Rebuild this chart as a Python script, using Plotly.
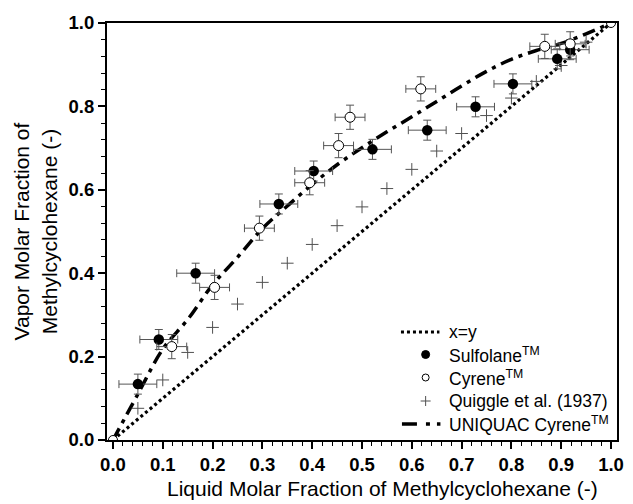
import plotly.graph_objects as go

# ---------------- data ----------------
sulf_x = [0.050, 0.092, 0.166, 0.333, 0.403, 0.521, 0.631, 0.728, 0.803, 0.892, 0.918]
sulf_y = [0.134, 0.241, 0.400, 0.566, 0.645, 0.697, 0.743, 0.799, 0.854, 0.914, 0.936]
sulf_xerr = [0.038] * len(sulf_x)
sulf_yerr = [0.024] * len(sulf_x)

cyr_x = [0.118, 0.204, 0.294, 0.395, 0.453, 0.476, 0.618, 0.867, 0.918]
cyr_y = [0.224, 0.366, 0.508, 0.617, 0.706, 0.774, 0.842, 0.944, 0.950]
cyr_xerr = [0.030] * len(cyr_x)
cyr_yerr = [0.029] * len(cyr_x)

cyr_pure_x = [0.0, 1.0]
cyr_pure_y = [0.0, 1.0]

quig_x = [0.05, 0.10, 0.15, 0.20, 0.25, 0.30, 0.35, 0.40, 0.45, 0.50,
          0.55, 0.60, 0.65, 0.70, 0.75, 0.80, 0.85, 0.90, 0.95]
quig_y = [0.076, 0.144, 0.210, 0.270, 0.326, 0.378, 0.424, 0.469, 0.514, 0.559,
          0.603, 0.649, 0.693, 0.735, 0.778, 0.820, 0.860, 0.898, 0.954]

uniq_x = [0.0, 0.05, 0.10, 0.15, 0.20, 0.25, 0.30, 0.35, 0.40, 0.45, 0.50,
          0.55, 0.60, 0.65, 0.70, 0.75, 0.80, 0.85, 0.90, 0.95, 1.0]
uniq_y = [0.0, 0.110, 0.218, 0.289, 0.372, 0.438, 0.507, 0.561, 0.613, 0.660, 0.701,
          0.739, 0.775, 0.812, 0.849, 0.884, 0.913, 0.934, 0.951, 0.974, 1.0]

diag_x = [0.0, 1.0]
diag_y = [0.0, 1.0]

x_ticks = [0.0, 0.1, 0.2, 0.3, 0.4, 0.5, 0.6, 0.7, 0.8, 0.9, 1.0]
y_ticks = [0.0, 0.2, 0.4, 0.6, 0.8, 1.0]

legend_labels = ["x=y", "Sulfolane<sup>TM</sup>", "Cyrene<sup>TM</sup>",
                 "Quiggle et al. (1937)", "UNIQUAC Cyrene<sup>TM</sup>"]

FONT = "Arial, Liberation Sans, sans-serif"
ERRC = "#555555"
QCOL = "#505050"
DIAG_DASH = "3px,3px"
UNIQ_DASH = "13px,6px,4px,6px"

fig = go.Figure()

fig.add_trace(go.Scatter(
    x=diag_x, y=diag_y, mode="lines", showlegend=False,
    line=dict(color="black", width=3.2, dash=DIAG_DASH)))

fig.add_trace(go.Scatter(
    x=uniq_x, y=uniq_y, mode="lines", showlegend=False,
    line=dict(color="black", width=3.5, dash=UNIQ_DASH), line_shape="spline"))

fig.add_trace(go.Scatter(
    x=quig_x, y=quig_y, mode="markers", showlegend=False,
    marker=dict(symbol="cross-thin", size=9, line=dict(color=QCOL, width=1))))

fig.add_trace(go.Scatter(
    x=cyr_pure_x, y=cyr_pure_y, mode="markers", showlegend=False,
    marker=dict(symbol="circle", size=9, color="white", line=dict(color="black", width=1))))

fig.add_trace(go.Scatter(
    x=sulf_x, y=sulf_y, mode="markers", showlegend=False,
    marker=dict(symbol="circle", size=10.5, color="black"),
    error_x=dict(type="data", array=sulf_xerr, color=ERRC, thickness=1, width=4),
    error_y=dict(type="data", array=sulf_yerr, color=ERRC, thickness=1, width=4)))

fig.add_trace(go.Scatter(
    x=cyr_x, y=cyr_y, mode="markers", showlegend=False,
    marker=dict(symbol="circle", size=10, color="white", line=dict(color="black", width=1)),
    error_x=dict(type="data", array=cyr_xerr, color=ERRC, thickness=1, width=4),
    error_y=dict(type="data", array=cyr_yerr, color=ERRC, thickness=1, width=4)))

axis_common = dict(
    showline=True, linecolor="black", linewidth=2, mirror=True,
    ticks="outside", ticklen=7, tickwidth=1.5, tickcolor="black",
    showgrid=False, zeroline=False,
    tickfont=dict(family=FONT, size=18.5, color="black", weight="bold"),
)

fig.update_xaxes(
    range=[-0.012, 1.012], tickvals=x_ticks, ticktext=[f"{v:.1f}" for v in x_ticks],
    minor=dict(ticks="outside", dtick=0.02, ticklen=4, tickwidth=1.2, tickcolor="black"),
    **axis_common)
fig.update_yaxes(
    range=[0, 1], tickvals=y_ticks, ticktext=[f"{v:.1f}" for v in y_ticks],
    minor=dict(ticks="outside", dtick=0.04, ticklen=4, tickwidth=1.2, tickcolor="black"),
    **axis_common)

# ---- hand-built legend (pixel -> paper conversion) ----
L, T, W, H = 107, 23, 517, 417
def px(xp):
    return (xp - L) / W
def py(yp):
    return (T + H - yp) / H

rows_y = [332, 354.5, 377.5, 401, 424]
text_x = 452
sym_x = 430

shapes = []
annotations = []
# x=y dotted line
shapes.append(dict(type="line", xref="paper", yref="paper",
                   x0=px(405), x1=px(444), y0=py(rows_y[0]), y1=py(rows_y[0]),
                   line=dict(color="black", width=3, dash=DIAG_DASH)))
# filled circle
shapes.append(dict(type="circle", xref="paper", yref="paper", xsizemode="pixel", ysizemode="pixel",
                   xanchor=px(sym_x), yanchor=py(rows_y[1]), x0=-4, x1=4, y0=-4, y1=4,
                   fillcolor="black", line=dict(color="black", width=1)))
# open circle
shapes.append(dict(type="circle", xref="paper", yref="paper", xsizemode="pixel", ysizemode="pixel",
                   xanchor=px(sym_x), yanchor=py(rows_y[2]), x0=-3.5, x1=3.5, y0=-3.5, y1=3.5,
                   fillcolor="white", line=dict(color="black", width=1)))
# plus
shapes.append(dict(type="line", xref="paper", yref="paper", xsizemode="pixel", ysizemode="pixel",
                   xanchor=px(sym_x), yanchor=py(rows_y[3]), x0=-5, x1=5, y0=0, y1=0,
                   line=dict(color=QCOL, width=1)))
shapes.append(dict(type="line", xref="paper", yref="paper", xsizemode="pixel", ysizemode="pixel",
                   xanchor=px(sym_x), yanchor=py(rows_y[3]), x0=0, x1=0, y0=-5, y1=5,
                   line=dict(color=QCOL, width=1)))
# dash-dot-dot legend key
shapes.append(dict(type="line", xref="paper", yref="paper",
                   x0=px(406), x1=px(445), y0=py(rows_y[4]), y1=py(rows_y[4]),
                   line=dict(color="black", width=3.5, dash="15px,9px,4px,7px,4px,20px")))

for lab, ry in zip(legend_labels, rows_y):
    annotations.append(dict(text=lab, xref="paper", yref="paper", x=px(text_x), y=py(ry),
                            xanchor="left", yanchor="middle", showarrow=False,
                            font=dict(family=FONT, size=17.5, color="black")))

annotations += [
    dict(text="Liquid Molar Fraction of Methylcyclohexane (-)", xref="paper", yref="paper",
         x=px(386), y=py(488), xanchor="center", yanchor="middle", showarrow=False,
         font=dict(family=FONT, size=21, color="black")),
    dict(text="Vapor Molar Fraction of<br>Methylcyclohexane (-)", xref="paper", yref="paper",
         x=px(34), y=0.5, xanchor="center", yanchor="middle", showarrow=False, textangle=-90,
         font=dict(family=FONT, size=21, color="black")),
]

fig.update_layout(
    width=633, height=504,
    margin=dict(l=107, r=9, t=23, b=64, pad=0),
    plot_bgcolor="white", paper_bgcolor="white",
    font=dict(family=FONT, color="black"),
    showlegend=False,
    shapes=shapes,
    annotations=annotations,
)

fig.write_html("out.html")
